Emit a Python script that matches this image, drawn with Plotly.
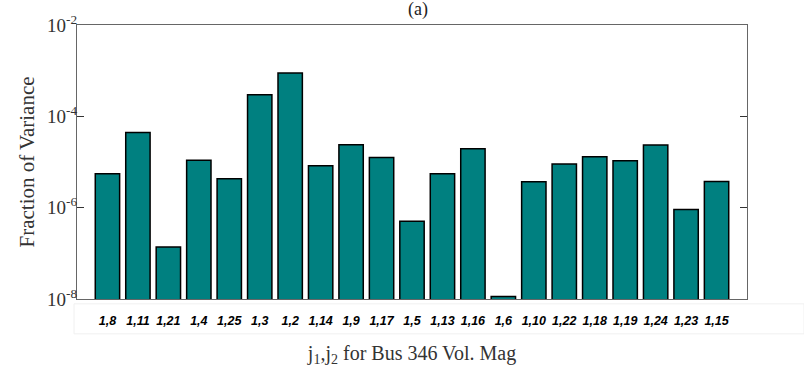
import plotly.graph_objects as go

categories = ["1,8", "1,11", "1,21", "1,4", "1,25", "1,3", "1,2", "1,14", "1,9", "1,17", "1,5",
              "1,13", "1,16", "1,6", "1,10", "1,22", "1,18", "1,19", "1,24", "1,23", "1,15"]
values = [5.5e-6, 4.4e-5, 1.37e-7, 1.09e-5, 4.3e-6, 2.98e-4, 8.85e-4, 8.3e-6, 2.39e-5, 1.26e-5, 5.05e-7,
          5.5e-6, 1.96e-5, 1.14e-8, 3.68e-6, 9.0e-6, 1.31e-5, 1.06e-5, 2.35e-5, 9.06e-7, 3.73e-6]
ytick_vals = [1e-8, 1e-6, 1e-4, 1e-2]
ytick_text = ["10<sup>-8</sup>", "10<sup>-6</sup>", "10<sup>-4</sup>", "10<sup>-2</sup>"]

SERIF = "Liberation Serif, Times New Roman, Times, serif"
SANS = "Liberation Sans, Arial, Helvetica, sans-serif"

fig = go.Figure()
fig.add_trace(go.Bar(
    x=categories, y=values, width=0.8,
    marker=dict(color="#008080", line=dict(color="black", width=1.5)),
))

W, H = 804, 372
L, R, T, B = 77, 57, 16, 73

fig.update_layout(
    width=W, height=H,
    margin=dict(l=L, r=R, t=T, b=B),
    plot_bgcolor="white", paper_bgcolor="white",
    showlegend=False,
    title=dict(text="(a)", x=0.52, xanchor="center", y=1 - 15 / H, yanchor="bottom",
               font=dict(family=SERIF, size=18, color="#222")),
    xaxis=dict(
        type="category", range=[-1, 21],
        showline=True, linecolor="#666", linewidth=1.2, mirror=True,
        ticks="outside", ticklen=10, tickcolor="rgba(0,0,0,0)",
        tickfont=dict(family=SANS, size=12.5, color="black", weight="bold", style="italic"),
        tickangle=0,
        title=dict(text="j<sub>1</sub>,j<sub>2</sub> for Bus 346 Vol. Mag",
                   font=dict(family=SERIF, size=20, color="#333"), standoff=18),
        showgrid=False,
    ),
    yaxis=dict(
        type="log", range=[-8, -2],
        tickvals=ytick_vals, ticktext=ytick_text,
        showline=True, linecolor="#666", linewidth=1.2, mirror="ticks",
        ticks="inside", ticklen=7, tickcolor="#333",
        ticklabelstandoff=-5,
        tickfont=dict(family=SERIF, size=19, color="#333"),
        title=dict(text="Fraction of Variance",
                   font=dict(family=SERIF, size=21, color="#333"), standoff=6),
        showgrid=False, zeroline=False,
    ),
    shapes=[dict(type="rect", xref="paper", yref="paper",
                 x0=(74 - L) / (W - L - R), x1=(804 - L) / (W - L - R),
                 y0=-(335 - (H - B)) / (H - T - B), y1=-(304 - (H - B)) / (H - T - B),
                 line=dict(color="#f0f0f0", width=1), layer="below")],
)

fig.write_html("out.html")
